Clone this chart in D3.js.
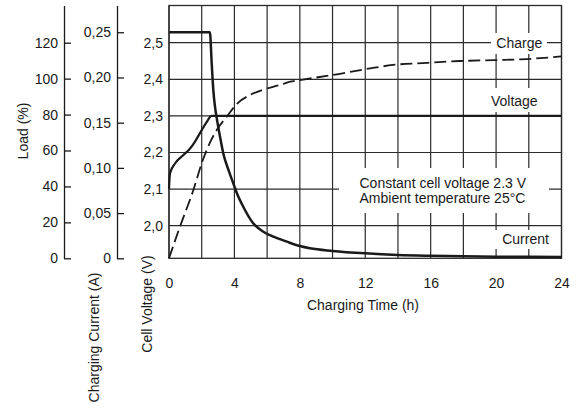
<!DOCTYPE html>
<html>
<head>
<meta charset="utf-8">
<script src="https://cdn.jsdelivr.net/npm/d3@7"></script>
<style>
  html, body { margin: 0; padding: 0; background: #fff; }
  svg { display: block; font-family: "Liberation Sans", Arial, sans-serif; }
  text { fill: #1a1a1a; font-size: 14px; }
</style>
</head>
<body>
<svg id="chart" width="581" height="416"></svg>
<script>
// ---------- data ----------
const timeTicks = [0, 4, 8, 12, 16, 20, 24];
const gridTimes = [0, 2, 4, 6, 8, 10, 12, 14, 16, 18, 20, 22, 24];
const voltageTicks = [2.0, 2.1, 2.2, 2.3, 2.4, 2.5];
const loadTicks = [0, 20, 40, 60, 80, 100, 120];
const currentTicks = [0, 0.05, 0.10, 0.15, 0.20, 0.25];

// Charging current (A)
const currentTime  = [0, 2.5, 2.61, 2.71, 2.81, 2.92, 3.12, 3.32, 3.63, 3.93, 4.14, 4.54, 5.15, 5.77, 6.38, 7.2, 8.0, 8.62, 10.0, 12.0, 14.0, 16, 18, 20, 22, 24];
const currentValue = [0.25, 0.25, 0.216, 0.186, 0.168, 0.155, 0.1345, 0.116, 0.098, 0.083, 0.0725, 0.057, 0.0387, 0.0294, 0.0239, 0.0184, 0.0136, 0.0111, 0.0082, 0.0055, 0.0037, 0.0028, 0.0022, 0.0018, 0.0016, 0.0014];

// Cell voltage (V)
const voltTime  = [0, 0.06, 0.37, 0.88, 1.29, 1.59, 2.0, 2.31, 2.61, 24];
const voltValue = [2.1, 2.143, 2.17, 2.193, 2.211, 2.23, 2.261, 2.284, 2.3, 2.3];

// Charge (% load)
const chargeTime  = [0, 0.67, 1.49, 2.0, 2.51, 2.92, 3.53, 4.15, 4.96, 5.77, 6.8, 7.41, 8.0, 10.0, 12.3, 13.7, 15.8, 17.8, 19.9, 21.9, 24];
const chargeValue = [0, 17.6, 38.0, 52.9, 64.5, 71.4, 78.8, 86.0, 90.9, 93.9, 96.5, 98.3, 99.2, 102, 105.7, 107.6, 108.8, 109.8, 110.3, 110.9, 112.4];

const seriesLabels = ["Charge", "Voltage", "Current"];
const noteLines = ["Constant cell voltage 2.3 V", "Ambient temperature 25°C"];

// ---------- layout ----------
const P = { left: 169, right: 561.5, top: 5.5, bottom: 258.3 };
const svg = d3.select("#chart");

const x = d3.scaleLinear().domain([0, 24]).range([P.left, P.right]);
const v = d3.scaleLinear().domain([1.911, 2.6016]).range([P.bottom, P.top]);
const load = d3.scaleLinear().domain([0, 140.7]).range([P.bottom, P.top]);
const cur = d3.scaleLinear().domain([0, 0.2796]).range([P.bottom, P.top]);

const ink = "#1a1a1a";
const comma = (f) => (d) => d === 0 ? "0" : d3.format(f)(d).replace(".", ",");

// ---------- grid ----------
const grid = svg.append("g").attr("stroke", "#2a2a2a").attr("stroke-width", 1.2);
grid.selectAll("line.v").data(gridTimes).join("line")
  .attr("x1", d => x(d)).attr("x2", d => x(d))
  .attr("y1", P.top).attr("y2", P.bottom);
grid.selectAll("line.h").data(voltageTicks).join("line")
  .attr("x1", P.left).attr("x2", P.right)
  .attr("y1", d => v(d)).attr("y2", d => v(d));

// white boxes behind labels
const boxes = [
  [491, 33, 56, 21],
  [488, 88, 53, 24],
  [339, 168, 210, 45],
  [493, 230, 63, 19]
];
svg.append("g").selectAll("rect").data(boxes).join("rect")
  .attr("x", d => d[0]).attr("y", d => d[1])
  .attr("width", d => d[2]).attr("height", d => d[3])
  .attr("fill", "#fff");

// frame
svg.append("rect")
  .attr("x", P.left).attr("y", P.top)
  .attr("width", P.right - P.left).attr("height", P.bottom - P.top)
  .attr("fill", "none").attr("stroke", "#2a2a2a").attr("stroke-width", 1.3);

// ---------- axes ----------
function styleAxis(g) {
  g.selectAll("path, line").attr("stroke", ink).attr("stroke-width", 1.3);
  g.selectAll("text").attr("fill", ink).style("font-size", "14px")
    .style("font-family", '"Liberation Sans", Arial, sans-serif');
}

// Load axis
svg.append("g").attr("transform", "translate(64,0)")
  .call(d3.axisRight(load).tickValues(loadTicks).tickSize(7).tickSizeOuter(0))
  .call(styleAxis)
  .call(g => g.selectAll("text").attr("x", -6).attr("text-anchor", "end"));

// Current axis
svg.append("g").attr("transform", "translate(117,0)")
  .call(d3.axisRight(cur).tickValues(currentTicks).tickSize(7).tickSizeOuter(0)
    .tickFormat(comma(".2f")))
  .call(styleAxis)
  .call(g => g.selectAll("text").attr("x", -6).attr("text-anchor", "end"));

// Voltage axis
svg.append("g").attr("transform", `translate(${P.left},0)`)
  .call(d3.axisLeft(v).tickValues(voltageTicks).tickSize(0).tickPadding(6)
    .tickFormat(comma(".1f")))
  .call(styleAxis)
  .call(g => g.select(".domain").remove());

// Time axis
svg.append("g").attr("transform", `translate(0,${P.bottom})`)
  .call(d3.axisBottom(x).tickValues(timeTicks).tickSize(0).tickPadding(19.5))
  .call(styleAxis)
  .call(g => g.select(".domain").remove());

// axis titles
svg.append("text").attr("x", 363).attr("y", 309.5).attr("text-anchor", "middle")
  .text("Charging Time (h)");
svg.append("text").attr("transform", "translate(27.5,131) rotate(-90)")
  .attr("text-anchor", "middle").text("Load (%)");
svg.append("text").attr("transform", "translate(99,337.5) rotate(-90)")
  .attr("text-anchor", "middle").text("Charging Current (A)");
svg.append("text").attr("transform", "translate(151.7,304) rotate(-90)")
  .attr("text-anchor", "middle").text("Cell Voltage (V)");

// ---------- curves ----------
const currentData = currentTime.map((t, i) => ({ t, y: currentValue[i] }));
const voltData = voltTime.map((t, i) => ({ t, y: voltValue[i] }));
const chargeData = chargeTime.map((t, i) => ({ t, y: chargeValue[i] }));

const mk = (ys) => d3.line().x(d => x(d.t)).y(d => ys(d.y)).curve(d3.curveMonotoneX);

svg.append("path").datum(chargeData).attr("d", mk(load))
  .attr("fill", "none").attr("stroke", ink).attr("stroke-width", 1.8)
  .attr("stroke-dasharray", "12,5");
svg.append("path").datum(voltData).attr("d", mk(v))
  .attr("fill", "none").attr("stroke", ink).attr("stroke-width", 2.2);
svg.append("path").datum(currentData).attr("d", mk(cur))
  .attr("fill", "none").attr("stroke", ink).attr("stroke-width", 2.5);

// ---------- labels ----------
const labelPos = [[519.3, 43.3], [514.3, 101], [525.5, 239.3]];
svg.append("g").selectAll("text").data(seriesLabels).join("text")
  .attr("x", (d, i) => labelPos[i][0]).attr("y", (d, i) => labelPos[i][1])
  .attr("dy", "0.35em").attr("text-anchor", "middle").text(d => d);

svg.append("g").selectAll("text").data(noteLines).join("text")
  .attr("x", 359.5).attr("y", (d, i) => 182.7 + i * 15.8)
  .attr("dy", "0.35em").text(d => d);
</script>
</body>
</html>
